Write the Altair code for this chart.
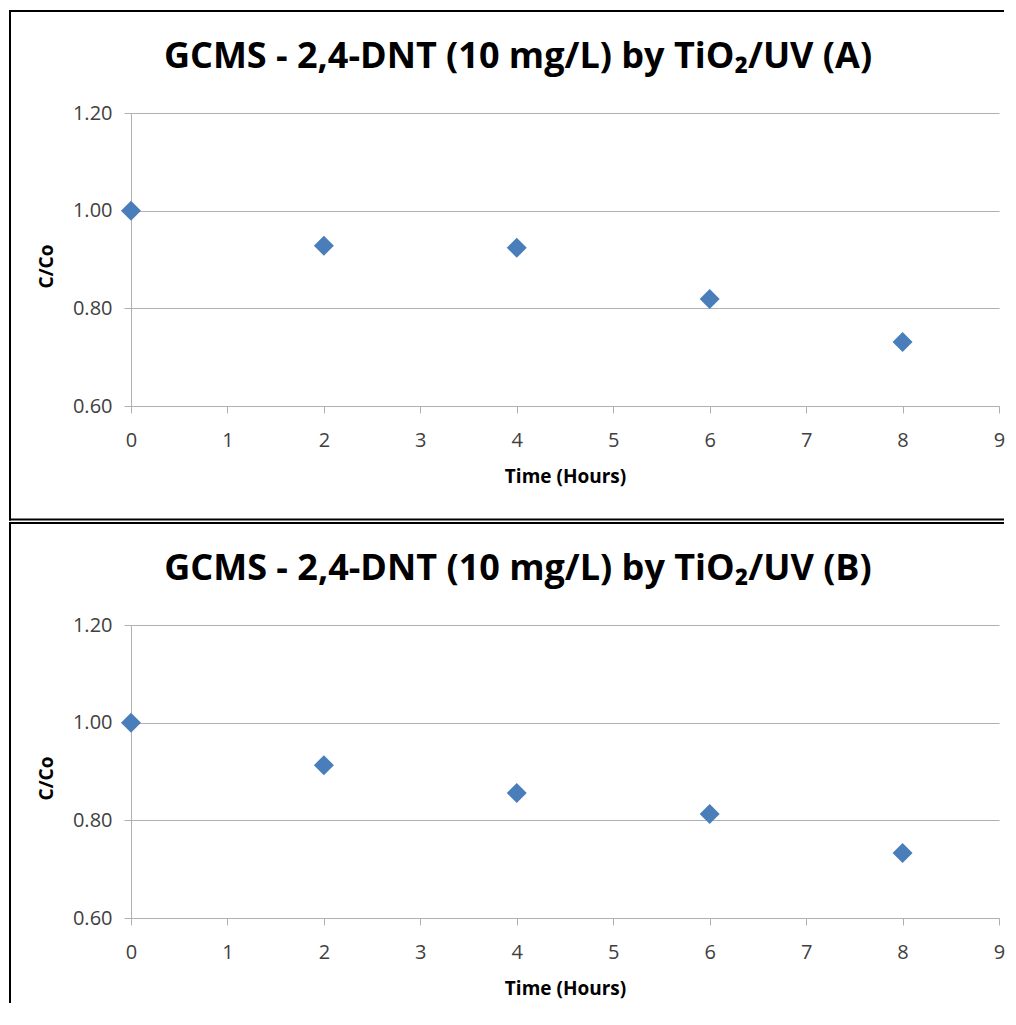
import altair as alt
import pandas as pd

# ---- data ----
time_hours = [0, 2, 4, 6, 8]
cco_a = [1.00, 0.928, 0.924, 0.819, 0.731]
cco_b = [1.00, 0.913, 0.856, 0.813, 0.733]
x_ticks = [0, 1, 2, 3, 4, 5, 6, 7, 8, 9]
y_ticks = [0.60, 0.80, 1.00, 1.20]
panel_titles = [
    "GCMS - 2,4-DNT (10 mg/L) by TiO₂/UV (A)",
    "GCMS - 2,4-DNT (10 mg/L) by TiO₂/UV (B)",
]

W, H = 868, 293
FONT = "Open Sans"
GRAY = "#b0b0b0"
BLUE = "#4A7EBB"
RIGHT = 872


def border(x, y, x2=None, y2=None):
    enc = dict(x=alt.value(x), y=alt.value(y))
    if x2 is not None:
        enc["x2"] = alt.value(x2)
    if y2 is not None:
        enc["y2"] = alt.value(y2)
    return (
        alt.Chart(pd.DataFrame({"k": [0]}))
        .mark_rule(color="black", strokeWidth=2, strokeCap="square")
        .encode(**enc)
    )


def panel(values, title, first):
    df = pd.DataFrame({"t": time_hours, "c": values})
    pts = (
        alt.Chart(df)
        .mark_point(shape="diamond", filled=True, size=400, color=BLUE, opacity=1)
        .encode(
            x=alt.X(
                "t:Q",
                scale=alt.Scale(domain=[0, 9], nice=False, zero=False),
                axis=alt.Axis(
                    values=x_ticks,
                    title="Time (Hours)",
                    grid=False,
                    tickSize=7,
                    labelPadding=17,
                    labelFlush=False,
                    titleY=76,
                    titleBaseline="alphabetic",
                ),
            ),
            y=alt.Y(
                "c:Q",
                scale=alt.Scale(domain=[0.6, 1.2], nice=False, zero=False),
                axis=alt.Axis(
                    values=y_ticks,
                    format=".2f",
                    title="C/Co",
                    grid=True,
                    tickSize=7,
                    labelPadding=12,
                    labelFlush=False,
                    titleX=-85,
                    titleY=153,
                    titleAngle=270,
                    titleBaseline="middle",
                ),
            ),
        )
    )
    if first:
        rules = [
            border(-121, -102, x2=RIGHT),
            border(-121, 406.5, x2=RIGHT),
            border(-121, -102, y2=406.5),
        ]
    else:
        rules = [
            border(-121, -102, x2=RIGHT),
            border(-121, -102, y2=377),
        ]
    return alt.layer(*rules, pts).properties(
        width=W,
        height=H,
        title=alt.TitleParams(
            text=title,
            font=FONT,
            fontSize=36,
            fontWeight="bold",
            color="black",
            anchor="middle",
            frame="group",
            baseline="alphabetic",
            offset=-94,
            dx=-47,
        ),
    )


chart = (
    alt.vconcat(panel(cco_a, panel_titles[0], True), panel(cco_b, panel_titles[1], False), spacing=0)
    .properties(padding={"left": 0, "top": 1, "right": 0, "bottom": 0})
    .configure_view(stroke=None)
    .configure_axis(
        labelFont=FONT,
        labelFontSize=20,
        labelColor="#404040",
        titleFont=FONT,
        titleFontSize=19,
        titleFontWeight="bold",
        titleColor="black",
        domainColor=GRAY,
        tickColor=GRAY,
        gridColor=GRAY,
        gridOpacity=1,
        domainWidth=1,
        gridWidth=1,
    )
)

chart.save("out.html", embed_options={"renderer": "svg", "actions": False})
